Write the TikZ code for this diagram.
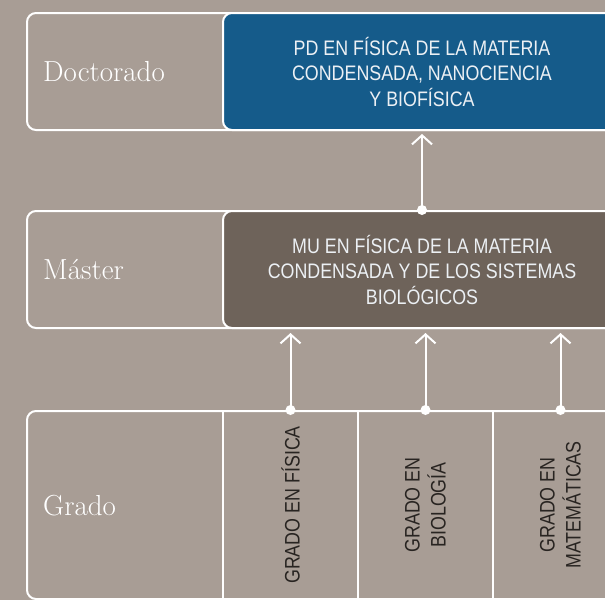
\documentclass[tikz,border=0pt]{standalone}
\usepackage{fontspec}
\usepackage{tikz}
\usetikzlibrary{arrows.meta}
\usepackage{xcolor}

\newfontfamily\condensada[FakeStretch=0.85]{Liberation Sans}
\definecolor{fondo}{RGB}{168,157,149}
\definecolor{azul}{RGB}{21,91,138}
\definecolor{oscuro}{RGB}{110,99,90}
\definecolor{tinta}{RGB}{40,36,33}
\definecolor{claro}{RGB}{236,240,244}

\tikzset{
  nivel/.style={draw=white, line width=2pt, rounded corners=9pt, anchor=north west,
    minimum width=640pt, minimum height=117pt, inner sep=0pt},
  programa/.style={draw=white, line width=2pt, rounded corners=9pt, anchor=north west,
    minimum width=398pt, minimum height=117pt, align=center, text=claro,
    font=\condensada\fontsize{21}{25.5}\selectfont},
  etiqueta/.style={anchor=base west, inner sep=0pt, text=white,
    font=\fontsize{29}{31}\selectfont},
  celda/.style={draw=white, line width=2pt, anchor=north west,
    minimum width=135pt, minimum height=188pt, inner sep=0pt},
  vertical/.style={rotate=90, align=center, text=tinta,
    font=\condensada\fontsize{21}{26}\selectfont},
  flecha/.style={white, line width=2pt, -{Straight Barb[length=9pt,width=20pt]}},
}

\begin{document}
\begin{tikzpicture}[x=1pt, y=-1pt]
    \useasboundingbox (0,0) rectangle (605,600);
    \clip (0,0) rectangle (605,600);
    \fill[fondo] (0,0) rectangle (605,600);

    % Doctorado
    \node[nivel] (doc) at (26,12) {};
    \node[programa, fill=azul] (pd) at (222,12)
        {PD EN FÍSICA DE LA MATERIA\\CONDENSADA, NANOCIENCIA\\Y BIOFÍSICA};
    \node[etiqueta] (tdoc) at (43,81) {Doctorado};

    % Master
    \node[nivel] (mas) at (26,210) {};
    \node[programa, fill=oscuro] (mu) at (222,210)
        {MU EN FÍSICA DE LA MATERIA\\CONDENSADA Y DE LOS SISTEMAS\\BIOLÓGICOS};
    \node[etiqueta] (tmas) at (43,279) {Máster};

    % Grado
    \node[nivel, minimum height=188pt] (gra) at (26,410) {};
    \node[celda] (gf) at (222,410) {};
    \node[celda] (gb) at (357,410) {};
    \node[celda] (gm) at (492,410) {};
    \node[etiqueta] (tgra) at (43,515) {Grado};
    \node[vertical] (tgf) at (gf.center) {GRADO EN FÍSICA};
    \node[vertical] (tgb) at (gb.center) {GRADO EN\\BIOLOGÍA};
    \node[vertical] (tgm) at (gm.center) {GRADO EN\\MATEMÁTICAS};

    % flechas
    \draw[flecha, shorten >=3pt] (mu.north) -- (pd.south);
    \fill[white] (mu.north) circle (5pt);
    \foreach \g in {gf,gb,gm} {
        \draw[flecha, shorten >=4pt] (\g.north) -- (\g.north |- mu.south);
        \fill[white] (\g.north) circle (5pt);
    }
\end{tikzpicture}
\end{document}
